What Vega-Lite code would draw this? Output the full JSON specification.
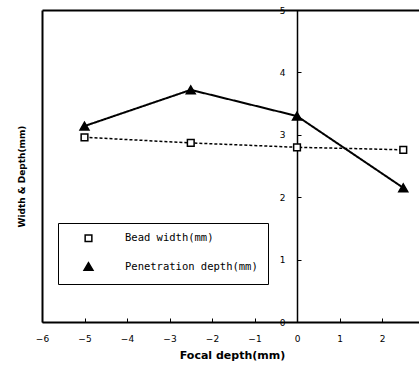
{
  "$schema": "https://vega.github.io/schema/vega-lite/v6.json",
  "width": 377,
  "height": 312,
  "autosize": {"type": "none"},
  "padding": {"left": 42, "top": 10, "right": 0, "bottom": 43},
  "background": "white",
  "config": {
    "view": {"stroke": null},
    "font": "DejaVu Sans",
    "axis": {"grid": false, "domainColor": "black", "tickColor": "black", "labelColor": "black", "titleColor": "black"}
  },
  "data": {
    "values": [
      {"x": -5, "y": 2.96, "series": "Bead width(mm)"},
      {"x": -2.5, "y": 2.87, "series": "Bead width(mm)"},
      {"x": 0, "y": 2.8, "series": "Bead width(mm)"},
      {"x": 2.5, "y": 2.76, "series": "Bead width(mm)"},
      {"x": -5, "y": 3.14, "series": "Penetration depth(mm)"},
      {"x": -2.5, "y": 3.72, "series": "Penetration depth(mm)"},
      {"x": 0, "y": 3.3, "series": "Penetration depth(mm)"},
      {"x": 2.5, "y": 2.15, "series": "Penetration depth(mm)"}
    ]
  },
  "layer": [
    {
      "mark": {"type": "line", "color": "black"},
      "encoding": {
        "x": {
          "field": "x", "type": "quantitative",
          "scale": {"domain": [-6, 2.87], "nice": false, "zero": false},
          "axis": {
            "orient": "bottom", "values": [-6, -5, -4, -3, -2, -1, 0, 1, 2],
            "tickSize": -4, "domainWidth": 2, "tickWidth": 1,
            "labelFontSize": 9, "labelPadding": 16, "labelFlush": false,
            "title": "Focal depth(mm)", "titleFontSize": 11, "titleFontWeight": "bold",
            "titleX": 190, "titleY": 33, "titleBaseline": "middle"
          }
        },
        "y": {
          "field": "y", "type": "quantitative",
          "scale": {"domain": [0, 5], "nice": false, "zero": true},
          "axis": {
            "orient": "left", "offset": -255, "values": [0, 1, 2, 3, 4, 5],
            "tickSize": -4, "domainWidth": 1.5, "labelFontSize": 9, "labelPadding": 16,
            "title": null
          }
        },
        "strokeDash": {"field": "series", "type": "nominal", "scale": {"range": [[3, 2], [1, 0]]}, "legend": null},
        "strokeWidth": {"field": "series", "type": "nominal", "scale": {"range": [1.5, 2]}, "legend": null}
      }
    },
    {
      "mark": {"type": "point", "opacity": 1, "stroke": "black", "strokeWidth": 1.5},
      "encoding": {
        "x": {
          "field": "x", "type": "quantitative",
          "axis": {"orient": "top", "labels": false, "ticks": false, "title": null, "domainWidth": 2}
        },
        "y": {
          "field": "y", "type": "quantitative",
          "axis": {
            "orient": "left", "labels": false, "ticks": false, "domainWidth": 2,
            "title": "Width & Depth(mm)", "titleFontSize": 9, "titleFontWeight": "bold",
            "titleX": -21, "titleY": 166, "titleAlign": "center", "titleBaseline": "middle", "titleAngle": -90
          }
        },
        "fill": {"field": "series", "type": "nominal", "scale": {"range": ["white", "black"]}},
        "size": {"field": "series", "type": "nominal", "scale": {"range": [45, 80]}},
        "shape": {
          "field": "series", "type": "nominal",
          "scale": {"range": ["square", "triangle-up"]},
          "legend": {
            "orient": "none", "legendX": 16, "legendY": 213, "title": null,
            "strokeColor": "black", "fillColor": "white", "padding": 10,
            "labelFont": "DejaVu Sans Mono", "labelFontSize": 10.5, "labelColor": "black",
            "labelOffset": 31, "symbolOffset": 15, "rowPadding": 14,
            "symbolStrokeColor": "black", "symbolStrokeWidth": 1.5
          }
        }
      }
    }
  ],
  "resolve": {"axis": {"x": "independent", "y": "independent"}}
}
